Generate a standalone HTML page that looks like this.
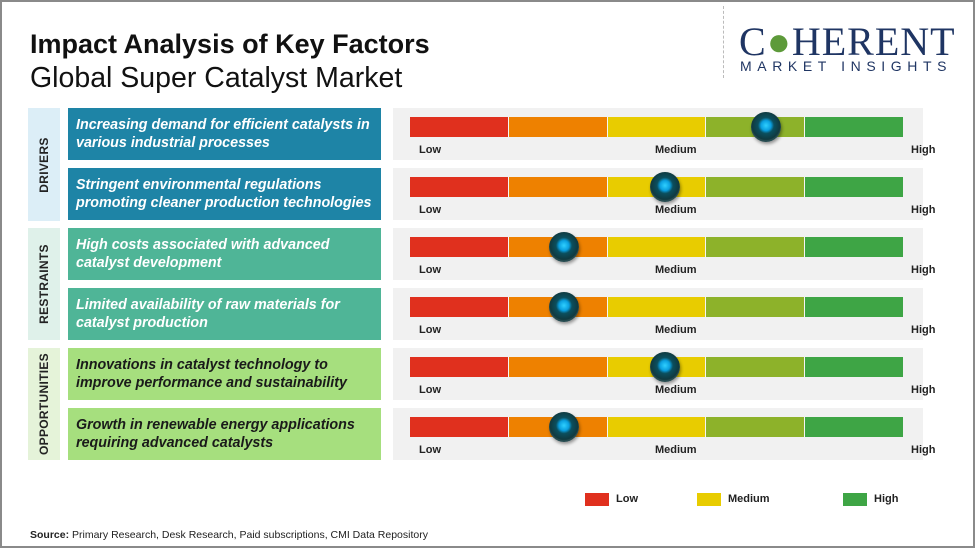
<!DOCTYPE html>
<html><head><style>
*{margin:0;padding:0;box-sizing:border-box}
body{width:975px;height:548px;background:#fff;font-family:"Liberation Sans",sans-serif;position:relative;overflow:hidden}
.frame{position:absolute;left:0;top:0;width:975px;height:548px;border:2px solid #8a8a8a}
.abs{position:absolute}
.cat{position:absolute;left:28px;width:32px}
.cat span{position:absolute;left:50%;top:50%;transform:translate(-50%,-50%) rotate(-90deg);font-size:12px;font-weight:bold;color:#222;white-space:nowrap;letter-spacing:.3px}
.box{position:absolute;left:68px;width:313px;height:52px;color:#fff;font-style:italic;font-weight:bold;font-size:14.3px;line-height:18px;padding:8px 0 0 8px}
.panel{position:absolute;left:393px;width:530px;height:52px;background:#f1f1f1}
.bar{position:absolute;left:17px;top:9px;height:20px;width:493px;display:flex}
.bar div{flex:1;border-right:1px solid #f5f5f5}
.lbl{position:absolute;top:36px;font-size:11px;font-weight:bold;color:#222}
.knob{position:absolute;width:30px;height:30px;border-radius:50%;background:radial-gradient(circle at 50% 45%,#2fd0ff 0,#0a9fe0 5px,#0b4f5e 8px,#10393f 14px,#264b50 15px);box-shadow:1px 2px 3px rgba(0,0,0,.4)}
</style></head><body>
<div class="frame"></div>
<div class="abs" style="left:30px;top:29px;font-size:27px;font-weight:bold;color:#111">Impact Analysis of Key Factors</div>
<div class="abs" style="left:30px;top:62px;font-size:28.5px;color:#111">Global Super Catalyst Market</div>
<div class="abs" style="left:723px;top:6px;height:72px;border-left:1px dashed #bbb"></div>
<div class="abs" style="left:739px;top:20px;font-family:'Liberation Serif',serif;font-size:40px;color:#1f3563;letter-spacing:1px;line-height:44px">C<span style="color:#5d9a3a">●</span>HERENT</div>
<div class="abs" style="left:740px;top:58px;font-size:14px;color:#1f3563;letter-spacing:5.6px">MARKET INSIGHTS</div>

<div class="cat" style="top:108px;height:113px;background:#dceef7"><span>DRIVERS</span></div>
<div class="cat" style="top:228px;height:112px;background:#dff1ea"><span>RESTRAINTS</span></div>
<div class="cat" style="top:348px;height:112px;background:#e5f3d9"><span>OPPORTUNITIES</span></div>

<div class="box" style="top:108px;background:#1e84a6">Increasing demand for efficient catalysts in<br>various industrial processes</div>
<div class="box" style="top:168px;background:#1e84a6">Stringent environmental regulations<br>promoting cleaner production technologies</div>
<div class="box" style="top:228px;background:#4fb597">High costs associated with advanced<br>catalyst development</div>
<div class="box" style="top:288px;background:#4fb597">Limited availability of raw materials for<br>catalyst production</div>
<div class="box" style="top:348px;background:#a6df7e;color:#1a1a1a">Innovations in catalyst technology to<br>improve performance and sustainability</div>
<div class="box" style="top:408px;background:#a6df7e;color:#1a1a1a">Growth in renewable energy applications<br>requiring advanced catalysts</div>

<div id="panels"></div>
<script>
var ys=[108,168,228,288,348,408],ks=[766,665,564,564,665,564],h='';
for(var i=0;i<6;i++){h+='<div class="panel" style="top:'+ys[i]+'px"><div class="bar"><div style="background:#e0301e"></div><div style="background:#ee8100"></div><div style="background:#e8cc00"></div><div style="background:#8db22a"></div><div style="background:#3ea545;border:none"></div></div><div class="lbl" style="left:26px">Low</div><div class="lbl" style="left:262px">Medium</div><div class="lbl" style="left:518px">High</div><div class="knob" style="left:'+(ks[i]-393-15)+'px;top:4px"></div></div>';}
document.getElementById('panels').innerHTML=h;
</script>

<div class="abs" style="left:585px;top:493px;width:24px;height:13px;background:#e0301e"></div>
<div class="abs" style="left:616px;top:493px;font-size:11px;font-weight:bold;color:#222">Low</div>
<div class="abs" style="left:697px;top:493px;width:24px;height:13px;background:#e8cc00"></div>
<div class="abs" style="left:728px;top:493px;font-size:11px;font-weight:bold;color:#222">Medium</div>
<div class="abs" style="left:843px;top:493px;width:24px;height:13px;background:#3ea545"></div>
<div class="abs" style="left:874px;top:493px;font-size:11px;font-weight:bold;color:#222">High</div>

<div class="abs" style="left:30px;top:529px;font-size:10.5px;color:#222"><b>Source:</b> Primary Research, Desk Research, Paid subscriptions, CMI Data Repository</div>
</body></html>
